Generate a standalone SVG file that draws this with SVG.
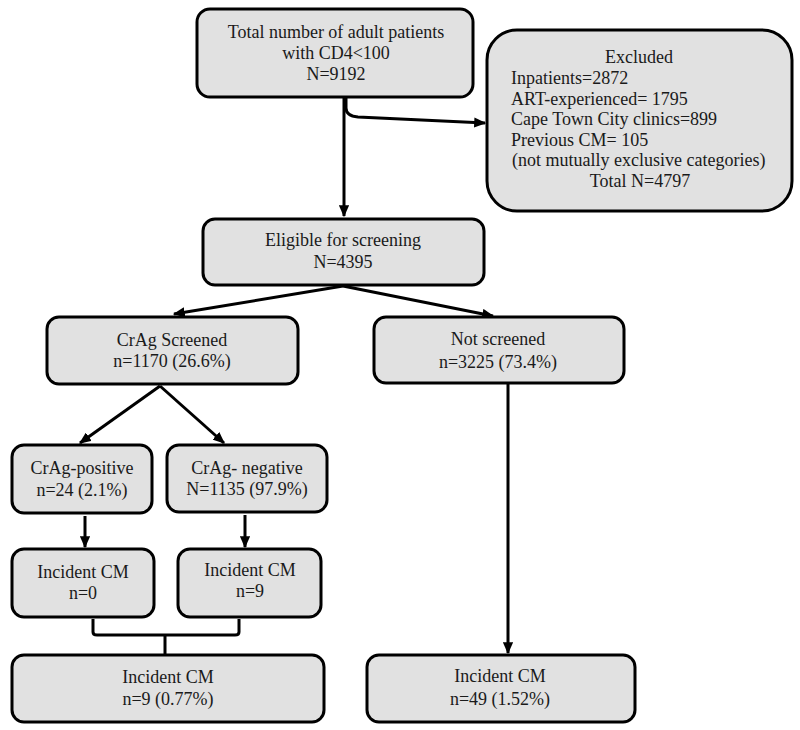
<svg xmlns="http://www.w3.org/2000/svg" width="800" height="730" viewBox="0 0 800 730">
<style>
.box{fill:#e1e1e1;stroke:#000;stroke-width:3}
text{font-family:"Liberation Serif","Times New Roman",serif;font-size:18px;fill:#1a1a1a}
.c{text-anchor:middle}
.ln{fill:none;stroke:#000;stroke-width:3}
</style>
<defs>
<marker id="ah" viewBox="0 0 10 10" refX="9" refY="5" markerWidth="4" markerHeight="3.4" orient="auto" markerUnits="strokeWidth" preserveAspectRatio="none">
<path d="M0,0 L10,5 L0,10 z" fill="#000"/>
</marker>
</defs>
<rect width="800" height="730" fill="#fff"/>
<g id="connectors">
<path class="ln" d="M344,98 L344,216" marker-end="url(#ah)"/>
<path class="ln" d="M346,98 L346,108 Q346,116 358,117 L485,123" marker-end="url(#ah)"/>
<path class="ln" d="M343,286 L174,314" marker-end="url(#ah)"/>
<path class="ln" d="M343,286 L493,316" marker-end="url(#ah)"/>
<path class="ln" d="M160,386 L80,443" marker-end="url(#ah)"/>
<path class="ln" d="M160,386 L224,443" marker-end="url(#ah)"/>
<path class="ln" d="M85,516 L85,547" marker-end="url(#ah)"/>
<path class="ln" d="M245,515 L245,547" marker-end="url(#ah)"/>
<path class="ln" d="M508,384 L508,653" marker-end="url(#ah)"/>
<path class="ln" d="M93,619 L93,632 Q93,635 97,635 L235,635 Q239,635 239,632 L239,619 M165,635 L165,654"/>
</g>
<g id="total">
<rect class="box" x="197" y="9" width="276" height="88" rx="13"/>
<text class="c" x="336" y="38">Total number of adult patients</text>
<text class="c" x="336" y="59">with CD4&lt;100</text>
<text class="c" x="336" y="80">N=9192</text>
</g>
<g id="excluded">
<rect class="box" x="487" y="30" width="305" height="181" rx="30"/>
<text class="c" x="639" y="63">Excluded</text>
<text x="511" y="84">Inpatients=2872</text>
<text x="511" y="105">ART-experienced= 1795</text>
<text x="511" y="125">Cape Town City clinics=899</text>
<text x="511" y="146">Previous CM= 105</text>
<text x="512" y="166">(not mutually exclusive categories)</text>
<text class="c" x="640" y="187">Total N=4797</text>
</g>
<g id="eligible">
<rect class="box" x="203" y="219" width="281" height="66" rx="12"/>
<text class="c" x="343" y="246">Eligible for screening</text>
<text class="c" x="343" y="268">N=4395</text>
</g>
<g id="screened">
<rect class="box" x="47" y="317" width="251" height="67" rx="12"/>
<text class="c" x="172" y="346">CrAg Screened</text>
<text class="c" x="172" y="367">n=1170 (26.6%)</text>
</g>
<g id="notscreened">
<rect class="box" x="374" y="317" width="250" height="66" rx="12"/>
<text class="c" x="498" y="345">Not screened</text>
<text class="c" x="498" y="368">n=3225 (73.4%)</text>
</g>
<g id="positive">
<rect class="box" x="12" y="445" width="140" height="68" rx="12"/>
<text class="c" x="82" y="474">CrAg-positive</text>
<text class="c" x="82" y="496">n=24 (2.1%)</text>
</g>
<g id="negative">
<rect class="box" x="167" y="445" width="160" height="67" rx="12"/>
<text class="c" x="247" y="474">CrAg- negative</text>
<text class="c" x="247" y="495">N=1135 (97.9%)</text>
</g>
<g id="cm0">
<rect class="box" x="12" y="549" width="142" height="68" rx="12"/>
<text class="c" x="83" y="578">Incident CM</text>
<text class="c" x="83" y="599">n=0</text>
</g>
<g id="cm9">
<rect class="box" x="178" y="549" width="143" height="68" rx="12"/>
<text class="c" x="250" y="576">Incident CM</text>
<text class="c" x="250" y="597">n=9</text>
</g>
<g id="cmtotal">
<rect class="box" x="12" y="655" width="312" height="67" rx="12"/>
<text class="c" x="168" y="683">Incident CM</text>
<text class="c" x="168" y="705">n=9 (0.77%)</text>
</g>
<g id="cmnot">
<rect class="box" x="367" y="655" width="268" height="67" rx="12"/>
<text class="c" x="500" y="682">Incident CM</text>
<text class="c" x="500" y="705">n=49 (1.52%)</text>
</g>
</svg>
